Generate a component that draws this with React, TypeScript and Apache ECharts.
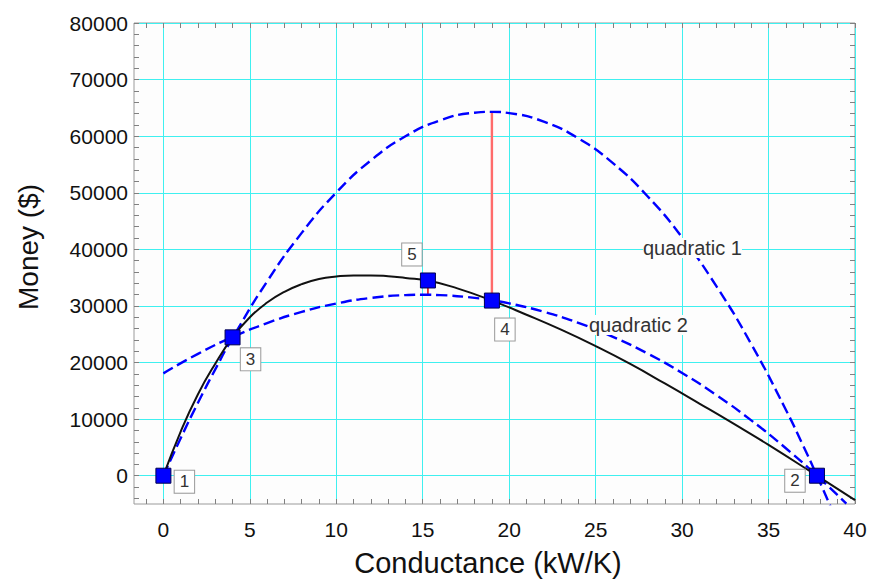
import React, { useEffect, useRef } from 'react';
import * as echarts from 'echarts';

// Tick values
const xTickLabels = [0, 5, 10, 15, 20, 25, 30, 35, 40];
const xMinorTicks = [-1, 0, 1, 2, 3, 4, 5, 6, 7, 8, 9, 10, 11, 12, 13, 14, 15, 16, 17, 18, 19, 20, 21, 22, 23, 24, 25, 26, 27, 28, 29, 30, 31, 32, 33, 34, 35, 36, 37, 38, 39, 40];
const yTickLabels = [0, 10000, 20000, 30000, 40000, 50000, 60000, 70000, 80000];
const yMinorTicks = [-4000, -2000, 0, 2000, 4000, 6000, 8000, 10000, 12000, 14000, 16000, 18000, 20000, 22000, 24000, 26000, 28000, 30000, 32000, 34000, 36000, 38000, 40000, 42000, 44000, 46000, 48000, 50000, 52000, 54000, 56000, 58000, 60000, 62000, 64000, 66000, 68000, 70000, 72000, 74000, 76000, 78000, 80000];

// Actual money curve (black)
const actualX = [0, 1, 2, 3, 4, 5, 6, 7, 8, 9, 10, 11, 12, 13, 14, 15.3, 17, 19, 21, 23, 25, 27, 29, 31, 33, 35, 37.8, 40];
const actualY = [0, 7800, 14400, 19800, 24450, 28000, 30600, 32500, 33850, 34750, 35200, 35400, 35400, 35250, 34950, 34500, 33100, 30950, 28450, 25800, 22900, 19750, 16300, 12750, 9150, 5450, 0, -4300];

// quadratic 1 (blue dashed, through points 1, 3, 2)
const quad1X = [0, 1, 2, 3, 4, 6, 8, 10, 12, 14, 16, 18, 19, 20, 22, 24, 26, 28, 30, 32, 34, 36, 37, 37.8, 38.6];
const quad1Y = [0, 6624, 12888, 18792, 24336, 34344, 42912, 50040, 55728, 59976, 62784, 64152, 64296, 64080, 62568, 59616, 55224, 49392, 42120, 33408, 23256, 11664, 5328, 0, -5558];

// quadratic 2 (blue dashed, through points 3, 4, 2)
const quad2X = [0, 2, 4, 6, 8, 10, 12, 14, 15, 16, 18, 19, 20, 22, 24, 26, 28, 30, 32, 34, 36, 37.8, 39.5];
const quad2Y = [18085, 21539, 24500, 26969, 28944, 30427, 31417, 31914, 31978, 31919, 31430, 31001, 30449, 28975, 27008, 24549, 21596, 18151, 14213, 9782, 4859, 0, -4942];

// Numbered points
const pointNames = ['1', '2', '3', '4', '5'];
const pointX = [0, 37.8, 4, 19, 15.3];
const pointY = [0, 0, 24450, 30950, 34500];

// Red connector lines
const redLongX = [19, 19];
const redLongY = [30950, 64296];
const redShortX = [15.3, 15.3];
const redShortY = [34500, 31960];

const FONT = '"Liberation Sans", Arial, Helvetica, sans-serif';

const labelOffsets: Record<string, [number, number]> = {
  '1': [21, 6],
  '2': [-22, 5],
  '3': [18, 22],
  '4': [13, 29],
  '5': [-16, -26],
};

const zip = (xs: number[], ys: number[]) => xs.map((x, i) => [x, ys[i]]);

const minorAxisX = (position: 'top' | 'bottom') => ({
  type: 'value',
  position,
  min: -1.7,
  max: 40,
  axisLine: { show: false, onZero: false },
  axisLabel: { show: false },
  splitLine: { show: false },
  axisTick: { show: true, inside: true, length: 5, customValues: xMinorTicks, lineStyle: { color: '#808080', width: 1 } },
});

const minorAxisY = (position: 'left' | 'right') => ({
  type: 'value',
  position,
  min: -5000,
  max: 80000,
  axisLine: { show: false, onZero: false },
  axisLabel: { show: false },
  splitLine: { show: false },
  axisTick: { show: true, inside: true, length: 5, customValues: yMinorTicks, lineStyle: { color: '#808080', width: 1 } },
});

const option = {
  animation: false,
  backgroundColor: '#ffffff',
  grid: {
    left: 134,
    right: 16,
    top: 23,
    bottom: 75,
    show: true,
    borderColor: '#9a9a9a',
    borderWidth: 1,
    backgroundColor: '#fdfdfd',
  },
  xAxis: [
    {
      type: 'value',
      position: 'bottom',
      min: -1.7,
      max: 40,
      axisLine: { show: false, onZero: false },
      axisTick: { show: false, customValues: xTickLabels },
      axisLabel: { customValues: xTickLabels, fontSize: 21, color: '#111', margin: 15, fontFamily: FONT, formatter: (v: number) => String(v) },
      splitLine: { show: true, lineStyle: { color: '#3ff0f0', width: 1 } },
    },
    minorAxisX('bottom'),
    minorAxisX('top'),
  ],
  yAxis: [
    {
      type: 'value',
      position: 'left',
      min: -5000,
      max: 80000,
      axisLine: { show: false, onZero: false },
      axisTick: { show: false, customValues: yTickLabels },
      axisLabel: { customValues: yTickLabels, fontSize: 21, color: '#111', margin: 6, fontFamily: FONT, formatter: (v: number) => String(v) },
      splitLine: { show: true, lineStyle: { color: '#3ff0f0', width: 1 } },
    },
    minorAxisY('left'),
    minorAxisY('right'),
  ],
  series: [
    {
      type: 'line',
      name: 'quadratic 1',
      data: zip(quad1X, quad1Y),
      smooth: true,
      symbol: 'none',
      lineStyle: { color: '#0000ff', width: 2.4, type: [11, 5] },
      z: 3,
    },
    {
      type: 'line',
      name: 'quadratic 2',
      data: zip(quad2X, quad2Y),
      smooth: true,
      symbol: 'none',
      lineStyle: { color: '#0000ff', width: 2.4, type: [11, 5] },
      z: 3,
    },
    {
      type: 'line',
      name: 'actual',
      data: zip(actualX, actualY),
      smooth: true,
      symbol: 'none',
      lineStyle: { color: '#111111', width: 2 },
      z: 4,
    },
    {
      type: 'line',
      name: 'red long',
      data: zip(redLongX, redLongY),
      symbol: 'none',
      lineStyle: { color: '#ff6b6b', width: 2.4 },
      z: 2,
    },
    {
      type: 'line',
      name: 'red short',
      data: zip(redShortX, redShortY),
      symbol: 'none',
      lineStyle: { color: '#e00000', width: 1.5 },
      z: 2,
    },
    {
      type: 'scatter',
      name: 'points',
      symbol: 'rect',
      symbolSize: 15,
      itemStyle: { color: '#0000ff', borderColor: '#000050', borderWidth: 1, opacity: 1 },
      data: pointNames.map((n, i) => ({
        name: n,
        value: [pointX[i], pointY[i]],
        label: { offset: labelOffsets[n] },
      })),
      label: {
        show: true,
        position: 'inside',
        formatter: '{b}',
        fontSize: 17,
        fontFamily: FONT,
        color: '#333',
        backgroundColor: '#ffffff',
        borderColor: '#999999',
        borderWidth: 1,
        padding: [3, 5, 2, 5],
      },
      z: 6,
    },
  ],
  graphic: [
    {
      type: 'text',
      left: 643,
      top: 238,
      z: 100,
      style: {
        text: 'quadratic 1',
        fontSize: 20,
        fontFamily: FONT,
        fill: '#333',
        backgroundColor: '#fdfdfd',
      },
    },
    {
      type: 'text',
      left: 589,
      top: 315,
      z: 100,
      style: {
        text: 'quadratic 2',
        fontSize: 20,
        fontFamily: FONT,
        fill: '#333',
        backgroundColor: '#fdfdfd',
      },
    },
    {
      type: 'text',
      x: 488,
      y: 563,
      z: 100,
      style: {
        text: 'Conductance (kW/K)',
        fontSize: 29,
        fontFamily: FONT,
        fill: '#111',
        align: 'center',
        verticalAlign: 'middle',
      },
    },
    {
      type: 'text',
      x: 28,
      y: 247,
      rotation: Math.PI / 2,
      z: 100,
      style: {
        text: 'Money ($)',
        fontSize: 28,
        fontFamily: FONT,
        fill: '#111',
        align: 'center',
        verticalAlign: 'middle',
      },
    },
  ],
};

export default function App() {
  const ref = useRef<HTMLDivElement>(null);
  useEffect(() => {
    document.body.style.margin = '0';
    const chart = echarts.init(ref.current as HTMLDivElement, null, { renderer: 'svg' });
    chart.setOption(option as any);
    return () => {
      chart.dispose();
    };
  }, []);
  return <div ref={ref} style={{ width: 871, height: 579 }} />;
}
